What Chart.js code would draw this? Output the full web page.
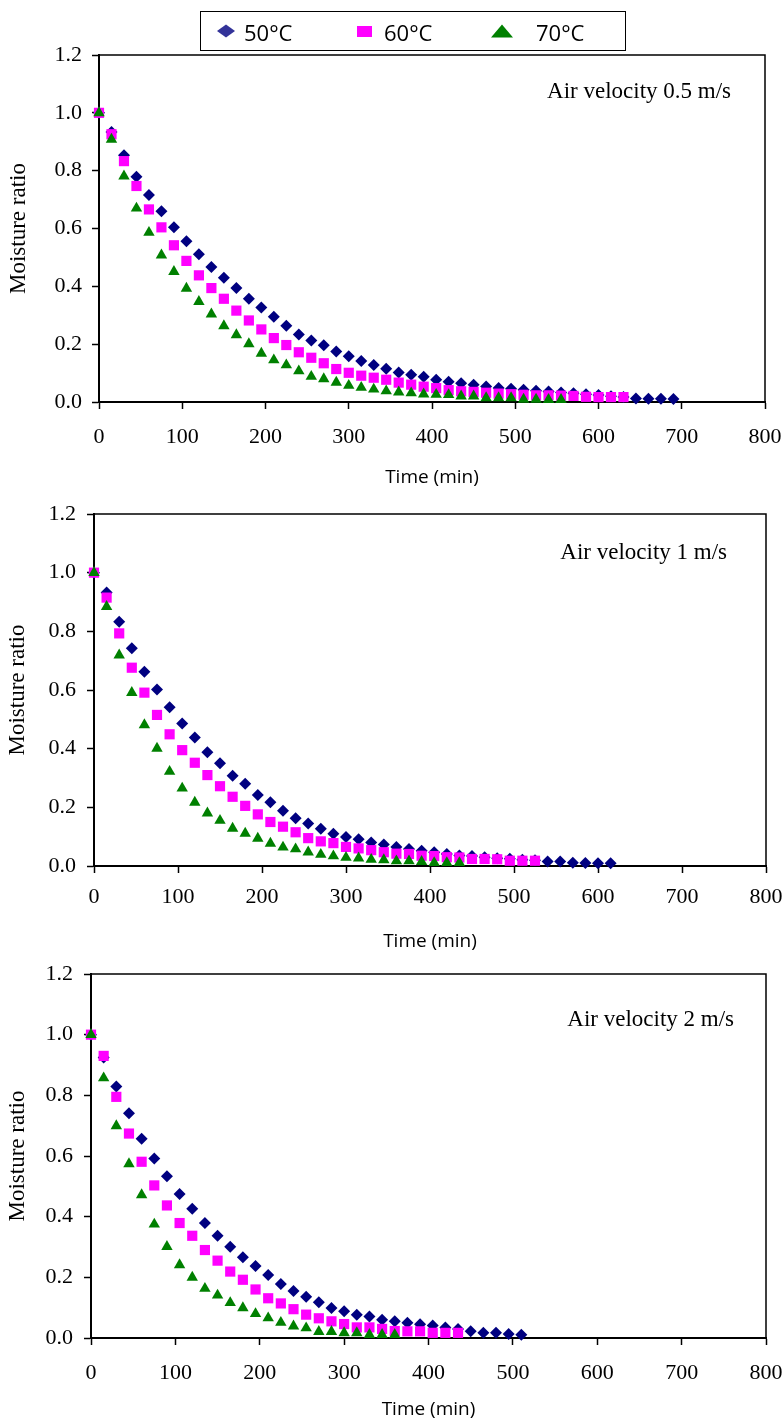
<!DOCTYPE html>
<html>
<head>
<meta charset="utf-8">
<title>Moisture ratio vs drying time</title>
<script src="https://cdn.jsdelivr.net/npm/chart.js@4.4.1/dist/chart.umd.min.js"></script>
<style>
  html, body { margin: 0; padding: 0; background: #fff; }
  #page { position: relative; width: 783px; height: 1420px; overflow: hidden; background: #fff; }
  .panel { position: absolute; left: 0; }
  #legend { position: absolute; left: 0; top: 0; width: 783px; height: 60px; z-index: 3; pointer-events: none; }
  #legend .box { position: absolute; left: 200px; top: 11px; width: 424px; height: 38px; border: 1.5px solid #000; background: #fff; }
  #legend .txt { position: absolute; top: 12px; height: 40px; line-height: 40px; font-family: 'Open Sans', 'Noto Sans', sans-serif; font-size: 22px; color: #000; }
  #legend svg { position: absolute; overflow: visible; }
</style>
</head>
<body>
<div id="page">
  <div id="legend">
    <div class="box"></div>
    <svg style="left:217px;top:24px" width="18" height="14"><polygon points="0,7 9,0.5 18,7 9,13.5" fill="#333399"/></svg>
    <span class="txt" style="left:244px">50°C</span>
    <svg style="left:357px;top:26px" width="15" height="11"><rect x="0" y="0" width="15" height="11" fill="#FF00FF"/></svg>
    <span class="txt" style="left:384px">60°C</span>
    <svg style="left:491px;top:24px" width="22" height="14"><polygon points="0,13.5 11,0.5 22,13.5" fill="#008000"/></svg>
    <span class="txt" style="left:536px">70°C</span>
  </div>
  <canvas id="c1" class="panel" style="top:0px" width="783" height="491"></canvas>
  <canvas id="c2" class="panel" style="top:492px" width="783" height="463"></canvas>
  <canvas id="c3" class="panel" style="top:955px" width="783" height="468"></canvas>
</div>
<script>
// Sampling times (min), shared by all runs; each run uses as many as it has readings
const timeMin = [0, 15, 30, 45, 60, 75, 90, 105, 120, 135, 150, 165, 180, 195, 210, 225,
  240, 255, 270, 285, 300, 315, 330, 345, 360, 375, 390, 405, 420, 435, 450, 465,
  480, 495, 510, 525, 540, 555, 570, 585, 600, 615, 630, 645, 660, 675, 690];

const xTicks = [0, 100, 200, 300, 400, 500, 600, 700, 800];
const yTicks = [0.0, 0.2, 0.4, 0.6, 0.8, 1.0, 1.2];

const seriesLabels = ['50°C', '60°C', '70°C'];

// Air velocity 0.5 m/s
const mr50_v05 = [1.000, 0.934, 0.853, 0.779, 0.716, 0.660, 0.604, 0.556, 0.511, 0.467, 0.430, 0.394,
  0.357, 0.327, 0.295, 0.264, 0.233, 0.213, 0.196, 0.175, 0.158, 0.142, 0.128, 0.115, 0.102, 0.094,
  0.087, 0.077, 0.070, 0.065, 0.060, 0.054, 0.048, 0.046, 0.042, 0.039, 0.036, 0.033, 0.030, 0.027,
  0.024, 0.020, 0.017, 0.012, 0.011, 0.011, 0.010];
const mr60_v05 = [1.000, 0.926, 0.833, 0.747, 0.666, 0.604, 0.542, 0.488, 0.438, 0.394, 0.357, 0.316,
  0.282, 0.251, 0.221, 0.197, 0.172, 0.153, 0.134, 0.114, 0.101, 0.091, 0.084, 0.077, 0.067, 0.060,
  0.053, 0.048, 0.041, 0.037, 0.035, 0.032, 0.029, 0.027, 0.025, 0.023, 0.023, 0.022, 0.021, 0.018,
  0.017, 0.017, 0.017];
const mr70_v05 = [1.000, 0.908, 0.781, 0.670, 0.586, 0.508, 0.451, 0.393, 0.347, 0.304, 0.263, 0.232,
  0.201, 0.168, 0.145, 0.128, 0.107, 0.088, 0.080, 0.068, 0.057, 0.050, 0.044, 0.038, 0.034, 0.031,
  0.027, 0.026, 0.025, 0.020, 0.020, 0.014, 0.014, 0.014, 0.009, 0.009, 0.008, 0.008];

// Air velocity 1 m/s
const mr50_v1 = [1.000, 0.932, 0.833, 0.742, 0.662, 0.602, 0.541, 0.486, 0.438, 0.388, 0.350, 0.308,
  0.280, 0.242, 0.217, 0.188, 0.163, 0.145, 0.127, 0.110, 0.099, 0.091, 0.080, 0.073, 0.065, 0.058,
  0.052, 0.047, 0.041, 0.036, 0.034, 0.030, 0.026, 0.025, 0.021, 0.020, 0.015, 0.015, 0.011, 0.010,
  0.009, 0.009];
const mr60_v1 = [1.000, 0.915, 0.793, 0.676, 0.591, 0.515, 0.449, 0.395, 0.352, 0.310, 0.272, 0.236,
  0.205, 0.176, 0.150, 0.134, 0.115, 0.095, 0.084, 0.078, 0.065, 0.060, 0.054, 0.047, 0.042, 0.041,
  0.035, 0.034, 0.030, 0.029, 0.024, 0.024, 0.023, 0.018, 0.018, 0.018];
const mr70_v1 = [1.000, 0.884, 0.719, 0.591, 0.481, 0.401, 0.322, 0.265, 0.217, 0.180, 0.155, 0.128,
  0.111, 0.094, 0.077, 0.064, 0.058, 0.047, 0.039, 0.034, 0.029, 0.027, 0.022, 0.021, 0.017, 0.017,
  0.015, 0.011, 0.011, 0.011];

// Air velocity 2 m/s
const mr50_v2 = [1.000, 0.925, 0.829, 0.741, 0.657, 0.592, 0.533, 0.475, 0.426, 0.379, 0.337, 0.301,
  0.266, 0.237, 0.208, 0.178, 0.155, 0.136, 0.118, 0.099, 0.088, 0.077, 0.071, 0.060, 0.055, 0.050,
  0.045, 0.041, 0.035, 0.030, 0.022, 0.017, 0.017, 0.013, 0.011];
const mr60_v2 = [1.000, 0.930, 0.795, 0.674, 0.581, 0.503, 0.437, 0.379, 0.337, 0.290, 0.255, 0.219,
  0.192, 0.160, 0.131, 0.114, 0.095, 0.077, 0.065, 0.055, 0.046, 0.035, 0.035, 0.030, 0.023, 0.022,
  0.022, 0.017, 0.017, 0.017];
const mr70_v2 = [1.000, 0.857, 0.699, 0.574, 0.472, 0.375, 0.301, 0.241, 0.200, 0.163, 0.141, 0.116,
  0.099, 0.080, 0.066, 0.051, 0.039, 0.033, 0.021, 0.021, 0.017, 0.017, 0.011, 0.011, 0.011];

// Marker look per drying temperature; later series are painted on top
const markerStyles = [
  { color: '#000080', pointStyle: 'rectRot', radius: 6.0, order: 2 },
  { color: '#FF00FF', pointStyle: 'rect', radius: 7.2, order: 1 },
  { color: '#008000', pointStyle: 'triangle', radius: 6.6, order: 0 }
];

const serifFont = "'Liberation Serif', 'Times New Roman', serif";
const sansFont = "'Open Sans', 'Noto Sans', sans-serif";

// Plot frame (top/right border) and the in-plot caption
const framePlugin = {
  id: 'frameAndCaption',
  afterDraw(chart, args, opts) {
    const { ctx, chartArea: a } = chart;
    ctx.save();
    ctx.strokeStyle = '#000';
    ctx.lineWidth = 1.5;
    ctx.beginPath();
    ctx.moveTo(a.left, a.top);
    ctx.lineTo(a.right, a.top);
    ctx.lineTo(a.right, a.bottom);
    ctx.stroke();
    ctx.fillStyle = '#000';
    ctx.font = '23px ' + serifFont;
    ctx.textAlign = 'right';
    ctx.textBaseline = 'middle';
    ctx.fillText(opts.text, a.right - opts.dx, a.top + opts.dy);
    ctx.restore();
  }
};

function buildPanel(canvasId, runs, layout) {
  const datasets = runs.map((vals, i) => {
    const s = markerStyles[i];
    return {
      label: seriesLabels[i],
      data: vals.map((v, j) => ({ x: timeMin[j], y: v })),
      pointStyle: s.pointStyle,
      pointRadius: s.radius,
      pointHoverRadius: s.radius,
      backgroundColor: s.color,
      borderColor: s.color,
      borderWidth: 0,
      showLine: false,
      clip: false,
      order: s.order
    };
  });

  return new Chart(document.getElementById(canvasId), {
    type: 'scatter',
    data: { datasets },
    options: {
      responsive: false,
      animation: false,
      events: [],
      layout: { padding: { top: layout.padTop, right: layout.padRight, left: 0, bottom: 0 } },
      plugins: {
        legend: { display: false },
        tooltip: { enabled: false },
        frameAndCaption: { text: layout.caption, dx: layout.capDx, dy: layout.capDy }
      },
      scales: {
        x: {
          type: 'linear',
          min: xTicks[0],
          max: xTicks[xTicks.length - 1],
          afterFit: (scale) => {
            scale.height = layout.xAxisH;
            scale.paddingLeft = 0;
            scale.paddingRight = 0;
          },
          afterBuildTicks: (scale) => { scale.ticks = xTicks.map(v => ({ value: v })); },
          ticks: {
            color: '#000',
            font: { family: serifFont, size: 22 },
            padding: layout.xTickPad,
            maxRotation: 0,
            autoSkip: false
          },
          grid: { display: true, drawOnChartArea: false, drawTicks: true, tickLength: 7, tickColor: '#000', tickWidth: 1.5 },
          border: { display: true, color: '#000', width: 2 },
          title: {
            display: true,
            text: 'Time (min)',
            color: '#000',
            font: { family: sansFont, size: 19 },
            padding: { top: 0, bottom: 2 }
          }
        },
        y: {
          type: 'linear',
          min: yTicks[0],
          max: yTicks[yTicks.length - 1],
          afterFit: (scale) => {
            scale.width = layout.yAxisW;
            scale.paddingTop = 0;
            scale.paddingBottom = 0;
          },
          afterBuildTicks: (scale) => { scale.ticks = yTicks.map(v => ({ value: v })); },
          ticks: {
            color: '#000',
            font: { family: serifFont, size: 22 },
            padding: layout.yTickPad,
            autoSkip: false,
            callback: (v) => Number(v).toFixed(1)
          },
          grid: { display: true, drawOnChartArea: false, drawTicks: true, tickLength: 7, tickColor: '#000', tickWidth: 1.5 },
          border: { display: true, color: '#000', width: 2 },
          title: {
            display: true,
            text: 'Moisture ratio',
            color: '#000',
            font: { family: serifFont, size: 23 },
            padding: { top: layout.yTitlePad, bottom: 0 }
          }
        }
      }
    },
    plugins: [framePlugin]
  });
}

buildPanel('c1', [mr50_v05, mr60_v05, mr70_v05], {
  padTop: 55, padRight: 18, yAxisW: 99, xAxisH: 89,
  xTickPad: 15, yTickPad: 10, yTitlePad: 5,
  caption: 'Air velocity 0.5 m/s', capDx: 34, capDy: 37
});
buildPanel('c2', [mr50_v1, mr60_v1, mr70_v1], {
  padTop: 22, padRight: 17, yAxisW: 94, xAxisH: 89,
  xTickPad: 11, yTickPad: 11, yTitlePad: 4,
  caption: 'Air velocity 1 m/s', capDx: 39, capDy: 39
});
buildPanel('c3', [mr50_v2, mr60_v2, mr70_v2], {
  padTop: 19, padRight: 17, yAxisW: 91, xAxisH: 85,
  xTickPad: 15, yTickPad: 11, yTitlePad: 4,
  caption: 'Air velocity 2 m/s', capDx: 32, capDy: 46
});
</script>
</body>
</html>
